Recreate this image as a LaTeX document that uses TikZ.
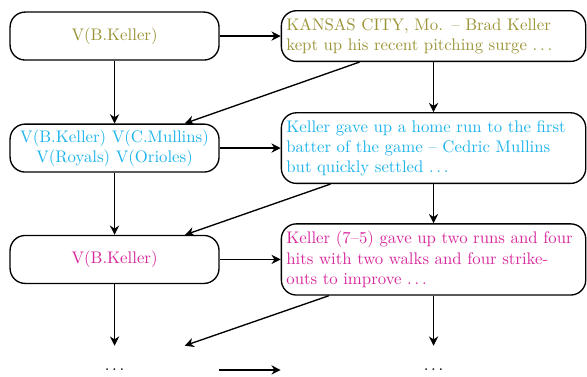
\documentclass[tikz,border=0pt]{standalone}
\usetikzlibrary{arrows.meta}
\definecolor{kolive}{RGB}{155,148,55}
\definecolor{kcyan}{RGB}{30,180,235}
\definecolor{kmagenta}{RGB}{215,40,155}
\begin{document}
\begin{tikzpicture}[x=1pt,y=1pt,
    vbox/.style={draw,thick,rounded corners=9pt,minimum width=124.6pt,minimum height=28.6pt,align=center,inner sep=3pt},
    tbox/.style={draw,thick,rounded corners=9pt,text width=175.5pt,align=left,inner xsep=3pt,inner ysep=4.5pt},
    ghost/.style={minimum width=124.6pt,minimum height=28.6pt},
    tghost/.style={minimum width=181.9pt,minimum height=28.6pt},
    arr/.style={thick,-{Stealth[length=5.5pt,width=5.5pt]}}]
    \useasboundingbox (0,0) rectangle (350,-224.2);
    \node[vbox,text=kolive] (v1) at (68.3,-21.5) {V(B.Keller)};
    \node[vbox,text=kcyan] (v2) at (68.3,-88.3) {V(B.Keller) V(C.Mullins)\\V(Royals) V(Orioles)};
    \node[vbox,text=kmagenta] (v3) at (68.3,-154.7) {V(B.Keller)};
    \node[ghost] (v4) at (68.3,-220.6) {$\ldots$};
    \node[tbox,text=kolive] (t1) at (258.5,-21.5) {KANSAS CITY, Mo. -- Brad Keller\\kept up his recent pitching surge $\ldots$};
    \node[tbox,text=kcyan] (t2) at (258.5,-88.3) {Keller gave up a home run to the first\\batter of the game -- Cedric Mullins\\but quickly settled $\ldots$};
    \node[tbox,text=kmagenta] (t3) at (258.5,-154.7) {Keller (7--5) gave up two runs and four\\hits with two walks and four strike-\\outs to improve $\ldots$};
    \node[tghost] (t4) at (258.5,-220.6) {$\ldots$};
    \foreach \i in {1,...,4}
      \draw[arr] (v\i) -- (t\i);
    \foreach \i/\j in {1/2,2/3,3/4}{
      \draw[arr] (v\i) -- (v\j);
      \draw[arr] (t\i) -- (t\j);
      \draw[arr] (t\i) -- (v\j);
    };
  \end{tikzpicture}
\end{document}
